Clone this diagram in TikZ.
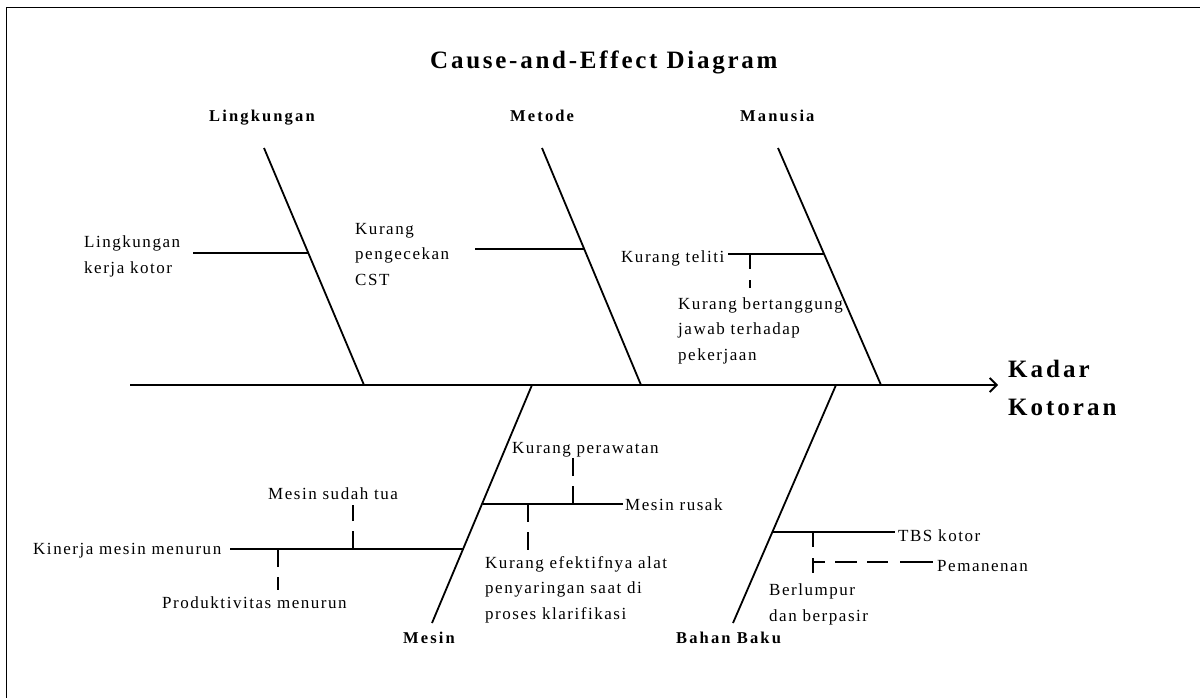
\documentclass[tikz,border=0pt]{standalone}
\usepackage{fontspec}
\setmainfont{Liberation Serif}
\newfontfamily\bodyfont{Liberation Serif}[LetterSpace=9]
\newfontfamily\labfont{Liberation Serif Bold}[LetterSpace=13]
\newfontfamily\titfont{Liberation Serif Bold}[LetterSpace=11]
\newfontfamily\effont{Liberation Serif Bold}[LetterSpace=12]
\usetikzlibrary{arrows.meta}
\begin{document}
\begin{tikzpicture}[x=1pt,y=-1pt,
  txt/.style={font=\bodyfont\fontsize{17}{25.3}\selectfont, inner sep=0pt, anchor=base west, align=left},
  cat/.style={font=\labfont\fontsize{16.5}{20}\selectfont, inner sep=0pt, anchor=base west},
  bone/.style={line width=1.8pt},
  sub/.style={line width=1.8pt},
  dsh/.style={line width=1.8pt, dash pattern=on 18pt off 10pt}
]
\useasboundingbox (0,0) rectangle (1200,698);
% frame
\coordinate (fA) at (6,698);
\coordinate (fB) at (6,8);
\coordinate (fC) at (1200,8);
\draw[line width=1pt] (fA) -- (fB) -- (fC);

% title and labels
\node[font=\titfont\fontsize{25}{30}\selectfont, inner sep=0pt, anchor=base west] (title) at (430,69) {Cause-and-Effect Diagram};
\node[cat] (lingk) at (209,122) {Lingkungan};
\node[cat] (metode) at (510,122) {Metode};
\node[cat] (manusia) at (740,122) {Manusia};
\node[cat] (mesin) at (403,643) {Mesin};
\node[cat] (bahan) at (676,643) {Bahan Baku};
\node[font=\effont\fontsize{25}{38}\selectfont, inner sep=0pt, anchor=base west, align=left] (effect) at (1008,415) {Kadar\\Kotoran};

% spine
\coordinate (sp0) at (130,385);
\coordinate (sp1) at (998,385);
\draw[bone, -{Straight Barb[length=7pt,width=14pt,line width=1.8pt]}] (sp0) -- (sp1);

% bones
\coordinate (L0) at (264,148); \coordinate (L1) at (364,385);
\coordinate (M0) at (542,148); \coordinate (M1) at (641,385);
\coordinate (H0) at (778,148); \coordinate (H1) at (881,385);
\coordinate (E0) at (532,385); \coordinate (E1) at (432,623);
\coordinate (B0) at (836,385); \coordinate (B1) at (733,623);
\draw[bone] (L0) -- (L1);
\draw[bone] (M0) -- (M1);
\draw[bone] (H0) -- (H1);
\draw[bone] (E0) -- (E1);
\draw[bone] (B0) -- (B1);

% Lingkungan
\node[txt] (t1) at (84,273) {Lingkungan\\kerja kotor};
\coordinate (l1a) at (193,253); \coordinate (l1b) at (308.3,253);
\draw[sub] (l1a) -- (l1b);

% Metode
\node[txt] (t2) at (355,285) {Kurang\\pengecekan\\CST};
\coordinate (m1a) at (475,249); \coordinate (m1b) at (584.2,249);
\draw[sub] (m1a) -- (m1b);

% Manusia
\node[txt] (t3) at (621,262) {Kurang teliti};
\coordinate (h1a) at (728,254); \coordinate (h1b) at (824.1,254);
\draw[sub] (h1a) -- (h1b);
\coordinate (h2a) at (750,254); \coordinate (h2b) at (750,288);
\draw[line width=1.8pt, dash pattern=on 15pt off 11pt] (h2a) -- (h2b);
\node[txt] (t4) at (678,360) {Kurang bertanggung\\jawab terhadap\\pekerjaan};

% Mesin upper
\coordinate (e1a) at (483,504); \coordinate (e1b) at (623,504);
\draw[sub] (e1a) -- (e1b);
\node[txt] (t5) at (625,510) {Mesin rusak};
\coordinate (e2a) at (573,504); \coordinate (e2b) at (573,458);
\draw[dsh] (e2a) -- (e2b);
\node[txt] (t6) at (512,453) {Kurang perawatan};
\coordinate (e3a) at (528,504); \coordinate (e3b) at (528,550);
\draw[dsh] (e3a) -- (e3b);
\node[txt] (t7) at (485,619) {Kurang efektifnya alat\\penyaringan saat di\\proses klarifikasi};

% Mesin lower
\coordinate (e4a) at (230,549); \coordinate (e4b) at (463,549);
\draw[sub] (e4a) -- (e4b);
\node[txt] (t8) at (33,554) {Kinerja mesin menurun};
\coordinate (e5a) at (353,549); \coordinate (e5b) at (353,505);
\draw[dsh] (e5a) -- (e5b);
\node[txt] (t9) at (268,499) {Mesin sudah tua};
\coordinate (e6a) at (278,549); \coordinate (e6b) at (278,590);
\draw[dsh] (e6a) -- (e6b);
\node[txt] (t10) at (162,608) {Produktivitas menurun};

% Bahan Baku
\coordinate (b1a) at (772.4,532); \coordinate (b1b) at (895,532);
\draw[sub] (b1a) -- (b1b);
\node[txt] (t11) at (898,541) {TBS kotor};
\coordinate (b2a) at (813,532); \coordinate (b2b) at (813,577);
\draw[line width=1.8pt, dash pattern=on 15pt off 11pt] (b2a) -- (b2b);
\coordinate (b3a) at (813,562); \coordinate (b3b) at (933,562);
\draw[line width=1.8pt, dash pattern=on 12pt off 10pt on 22pt off 10pt on 21pt off 12pt on 40pt] (b3a) -- (b3b);
\node[txt] (t12) at (937,571) {Pemanenan};
\node[txt] (t13) at (769,621) {Berlumpur\\dan berpasir};
\end{tikzpicture}
\end{document}
